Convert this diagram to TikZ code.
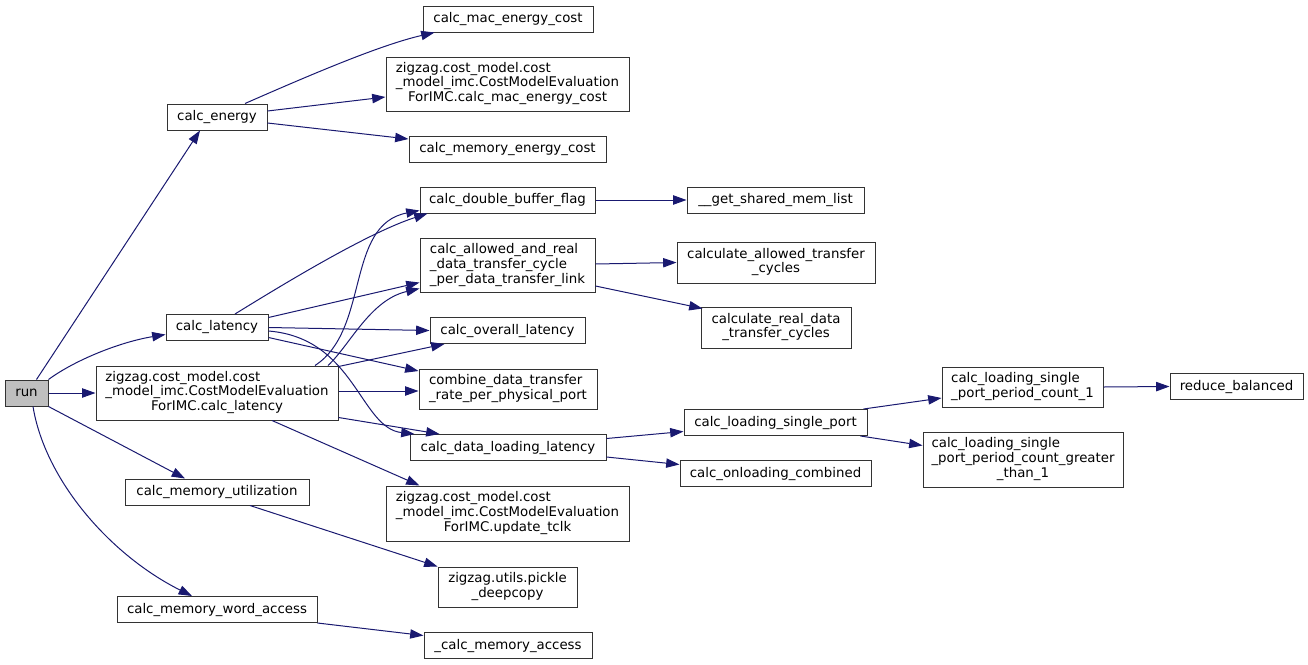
\documentclass[tikz,border=0pt]{standalone}
\usepackage{fontspec}
\setmainfont{DejaVu Sans}
\usetikzlibrary{arrows.meta,calc}
\definecolor{edgeblue}{HTML}{191970}
\definecolor{runfill}{HTML}{BFBFBF}
\newcommand\mlthree[3]{\begin{tabular}{@{}l@{}}#1\\#2\\\multicolumn{1}{@{}c@{}}{#3}\end{tabular}}
\newcommand\mltwo[2]{\begin{tabular}{@{}l@{}}#1\\\multicolumn{1}{@{}c@{}}{#2}\end{tabular}}
\tikzset{
  box/.style={draw=black!80, line width=0.75pt, inner sep=0pt, fill=white,
    font=\fontsize{10}{11}\selectfont, minimum height=19.5pt},
  boxtwo/.style={box, minimum height=30.75pt},
  boxthree/.style={box, minimum height=41.25pt},
  conn/.style={draw=edgeblue, line width=0.75pt, -{Triangle[length=10pt,width=7pt]}}
}
\begin{document}
\begin{tikzpicture}[x=0.75pt,y=-0.75pt]
\useasboundingbox (0,0) rectangle (1308,664);
% nodes
\node[box, fill=runfill, minimum width=32.25pt] (run) at (26.5,393) {run};
\node[box, minimum width=75pt] (energy) at (217,117) {calc\_energy};
\node[box, minimum width=127.5pt] (mac) at (508,19) {calc\_mac\_energy\_cost};
\node[boxthree, minimum width=182.25pt, minimum height=40.5pt] (zmac) at (507.5,84) {\mlthree{zigzag.cost\_model.cost}{\_model\_imc.CostModelEvaluation}{ForIMC.calc\_mac\_energy\_cost}};
\node[box, minimum width=147.75pt] (memen) at (507.5,149) {calc\_memory\_energy\_cost};
\node[box, minimum width=131.25pt] (dbf) at (507.5,200) {calc\_double\_buffer\_flag};
\node[box, minimum width=132.75pt] (gsml) at (775.5,200) {\_\_get\_shared\_mem\_list};
\node[boxthree, minimum width=131.25pt, minimum height=40.5pt] (allowed) at (507.5,265.5) {\mlthree{calc\_allowed\_and\_real}{\_data\_transfer\_cycle}{\_per\_data\_transfer\_link}};
\node[boxtwo, minimum width=148.5pt] (cat) at (776,262.5) {\mltwo{calculate\_allowed\_transfer}{\_cycles}};
\node[boxtwo, minimum width=112.5pt] (crd) at (776,327.5) {\mltwo{calculate\_real\_data}{\_transfer\_cycles}};
\node[box, minimum width=116.25pt] (overall) at (507.5,330.5) {calc\_overall\_latency};
\node[box, minimum width=76.5pt] (lat) at (217,327.5) {calc\_latency};
\node[boxthree, minimum width=181.5pt, minimum height=40.5pt] (zlat) at (217,393) {\mlthree{zigzag.cost\_model.cost}{\_model\_imc.CostModelEvaluation}{ForIMC.calc\_latency}};
\node[boxtwo, minimum width=133.5pt, minimum height=30pt] (combine) at (508,389) {\mltwo{combine\_data\_transfer}{\_rate\_per\_physical\_port}};
\node[box, minimum width=147pt] (dll) at (508,447.5) {calc\_data\_loading\_latency};
\node[box, minimum width=137.25pt] (lsp) at (775.5,422.5) {calc\_loading\_single\_port};
\node[box, minimum width=143.25pt] (onl) at (775.5,473.5) {calc\_onloading\_combined};
\node[boxthree, minimum width=182.25pt] (tclk) at (507.5,513.5) {\mlthree{zigzag.cost\_model.cost}{\_model\_imc.CostModelEvaluation}{ForIMC.update\_tclk}};
\node[boxtwo, minimum width=104.25pt, minimum height=30pt] (pickle) at (507.5,587) {\mltwo{zigzag.utils.pickle}{\_deepcopy}};
\node[box, minimum width=126pt] (cma) at (508,645.5) {\_calc\_memory\_access};
\node[boxtwo, minimum width=120.75pt, minimum height=30pt] (p1) at (1022.5,387) {\mltwo{calc\_loading\_single}{\_port\_period\_count\_1}};
\node[box, minimum width=99.75pt] (rb) at (1236.5,386.5) {reduce\_balanced};
\node[boxthree, minimum width=150pt] (gt1) at (1023,459.5) {\mlthree{calc\_loading\_single}{\_port\_period\_count\_greater}{\_than\_1}};
\node[box, minimum width=138pt] (mu) at (217,492) {calc\_memory\_utilization};
\node[box, minimum width=150pt] (mwa) at (217,609.5) {calc\_memory\_word\_access};
% connectors from run
\draw[conn] ($(run.north)+(10,0)$) -- ($(energy.south)+(-17,0)$);
\draw[conn] (run.north east) .. controls (75,360) and (120,342) .. ($(lat.west)+(0,7)$);
\draw[conn] (run.east) -- (zlat.west);
\draw[conn] (run.south east) -- ($(mu.north)+(-32,0)$);
\draw[conn] ($(run.south)+(6.5,0)$) .. controls (45,480) and (110,555) .. ($(mwa.north)+(-25,0)$);
% from calc_energy
\draw[conn] ($(energy.north)+(28,0)$) .. controls (310,75) and (380,45) .. ($(mac.south west)+(12,0)$);
\draw[conn] ($(energy.east)+(0,-6)$) -- ($(zmac.west)+(0,13)$);
\draw[conn] ($(energy.east)+(0,6)$) -- ($(memen.west)+(0,-10)$);
% from calc_latency
\draw[conn] ($(lat.north)+(18,0)$) .. controls (290,280) and (370,232) .. ($(dbf.south west)+(8,0)$);
\draw[conn] ($(lat.east)+(0,-10)$) -- ($(allowed.west)+(0,17)$);
\draw[conn] (lat.east) -- (overall.west);
\draw[conn] ($(lat.east)+(0,10)$) -- ($(combine.west)+(0,-18)$);
\draw[conn] ($(lat.east)+(0,3.5)$) .. controls (355,338) and (360,428) .. ($(dll.north west)+(5,0)$);
% from zigzag calc_latency
\draw[conn] ($(zlat.north)+(98,0)$) .. controls (370,330) and (345,225) .. ($(dbf.south west)+(0,-3)$);
\draw[conn] ($(zlat.north)+(111,0)$) .. controls (350,345) and (370,300) .. ($(allowed.west)+(0,23)$);
\draw[conn] ($(zlat.north east)+(0,1)$) -- ($(overall.south west)+(15,0)$);
\draw[conn] ($(zlat.east)+(0,-2)$) -- ($(combine.west)+(0,2)$);
\draw[conn] ($(zlat.south east)+(0,-3)$) -- ($(dll.north west)+(30,0)$);
\draw[conn] ($(zlat.south)+(55,0)$) -- ($(tclk.north west)+(34,0)$);
% right part
\draw[conn] (dbf.east) -- (gsml.west);
\draw[conn] ($(allowed.east)+(0,-1.5)$) -- (cat.west);
\draw[conn] ($(allowed.east)+(0,20.5)$) -- ($(crd.north west)+(2,2)$);
\draw[conn] ($(dll.east)+(0,-9)$) -- ($(lsp.west)+(0,9)$);
\draw[conn] ($(dll.east)+(0,9.5)$) -- ($(onl.west)+(0,-9)$);
\draw[conn] ($(lsp.north east)+(-4,0)$) -- ($(p1.west)+(0,11)$);
\draw[conn] ($(lsp.south east)+(-7,0)$) -- ($(gt1.west)+(0,-14)$);
\draw[conn] (p1.east) -- (rb.west);
\draw[conn] ($(mu.south)+(33,0)$) -- (pickle.north west);
\draw[conn] (mwa.south east) -- ($(cma.west)+(0,-10)$);
\end{tikzpicture}
\end{document}
